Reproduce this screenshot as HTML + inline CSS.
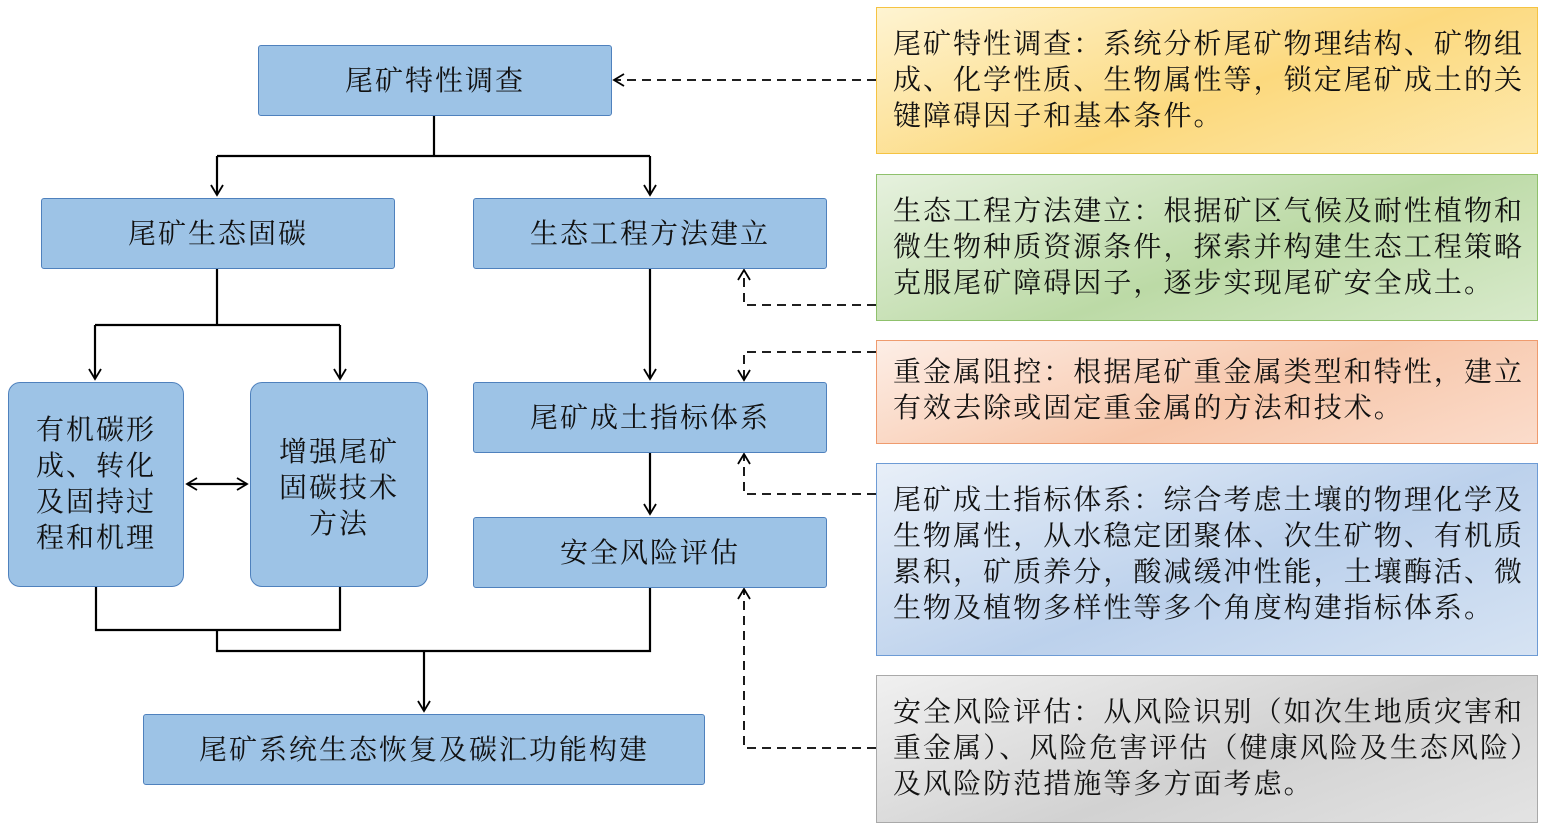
<!DOCTYPE html>
<html><head><meta charset="utf-8"><style>
body{margin:0;width:1545px;height:829px;background:#fff;position:relative;overflow:hidden;font-family:"Liberation Serif","Noto Serif CJK SC",serif;}
.b{position:absolute;background:#9dc3e6;border:1.5px solid #4f81bd;box-sizing:border-box;display:flex;align-items:center;justify-content:center;text-align:center;font-size:28px;letter-spacing:2px;color:#111;border-radius:3px;padding-bottom:3px}
.r{position:absolute;box-sizing:border-box;border:1.5px solid;padding:19px 4px 0 16px;font-size:28px;line-height:36px;letter-spacing:2.05px;color:#111}
svg{position:absolute;left:0;top:0}
</style></head><body>
<svg width="1545" height="829">
<defs><marker id="a" markerWidth="14" markerHeight="14" refX="11" refY="7" orient="auto-start-reverse" markerUnits="userSpaceOnUse"><path d="M1,1 L11,7 L1,13" fill="none" stroke="#000" stroke-width="1.8"/></marker></defs>
<g stroke="#000" stroke-width="2.2" fill="none">
<path d="M434,115V156M217,156H650"/>
<path d="M217,156V195" marker-end="url(#a)"/><path d="M650,156V195" marker-end="url(#a)"/>
<path d="M217,268V325M95,325H340"/>
<path d="M95,325V379" marker-end="url(#a)"/><path d="M340,325V379" marker-end="url(#a)"/>
<path d="M650,268V379" marker-end="url(#a)"/><path d="M650,452V514" marker-end="url(#a)"/>
<path d="M187,484H247" marker-start="url(#a)" marker-end="url(#a)"/>
<path d="M96,586V630H340V586M217,630V651H650V587"/>
<path d="M424,651V711" marker-end="url(#a)"/>
</g>
<g stroke="#000" stroke-width="1.8" fill="none" stroke-dasharray="9,6">
<path d="M876,80H614" marker-end="url(#a)"/>
<path d="M876,305H744V270" marker-end="url(#a)"/>
<path d="M876,352H744V380" marker-end="url(#a)"/>
<path d="M876,494H744V454" marker-end="url(#a)"/>
<path d="M876,748H744V589" marker-end="url(#a)"/>
</g>
</svg>
<div class="b" style="left:258px;top:45px;width:354px;height:71px">尾矿特性调查</div>
<div class="b" style="left:41px;top:198px;width:354px;height:71px">尾矿生态固碳</div>
<div class="b" style="left:473px;top:198px;width:354px;height:71px">生态工程方法建立</div>
<div class="b" style="left:8px;top:382px;width:176px;height:205px;border-radius:12px;line-height:36px;padding:0 24px">有机碳形成、转化及固持过程和机理</div>
<div class="b" style="left:250px;top:382px;width:178px;height:205px;border-radius:12px;line-height:36px;padding:8px 24px 0">增强尾矿固碳技术方法</div>
<div class="b" style="left:473px;top:382px;width:354px;height:71px">尾矿成土指标体系</div>
<div class="b" style="left:473px;top:517px;width:354px;height:71px">安全风险评估</div>
<div class="b" style="left:143px;top:714px;width:562px;height:71px">尾矿系统生态恢复及碳汇功能构建</div>
<div class="r" style="left:876px;top:7px;width:662px;height:147px;border-color:#f5c342;background:linear-gradient(160deg,#fef4d2,#fcd97e 55%,#fde9ae)">尾矿特性调查：系统分析尾矿物理结构、矿物组成、化学性质、生物属性等，锁定尾矿成土的关键障碍因子和基本条件。</div>
<div class="r" style="left:876px;top:174px;width:662px;height:147px;border-color:#8fc16c;background:linear-gradient(160deg,#e6f1de,#bcdaa6 55%,#d8eacb)">生态工程方法建立：根据矿区气候及耐性植物和微生物种质资源条件，探索并构建生态工程策略克服尾矿障碍因子，逐步实现尾矿安全成土。</div>
<div class="r" style="left:876px;top:340px;width:662px;height:104px;border-color:#ef9b6e;background:linear-gradient(160deg,#fdeee6,#f7c7ab 55%,#fbdccb);padding-top:14px">重金属阻控：根据尾矿重金属类型和特性，建立有效去除或固定重金属的方法和技术。</div>
<div class="r" style="left:876px;top:463px;width:662px;height:193px;border-color:#6d9bd5;background:linear-gradient(160deg,#e8eff8,#bcd1ec 55%,#d6e3f3)">尾矿成土指标体系：综合考虑土壤的物理化学及生物属性，从水稳定团聚体、次生矿物、有机质累积，矿质养分，酸减缓冲性能，土壤酶活、微生物及植物多样性等多个角度构建指标体系。</div>
<div class="r" style="left:876px;top:675px;width:662px;height:148px;border-color:#a9a9a9;background:linear-gradient(160deg,#f0f0f0,#d2d2d2 55%,#e3e3e3)">安全风险评估：从风险识别（如次生地质灾害和重金属）、风险危害评估（健康风险及生态风险）及风险防范措施等多方面考虑。</div>
</body></html>
